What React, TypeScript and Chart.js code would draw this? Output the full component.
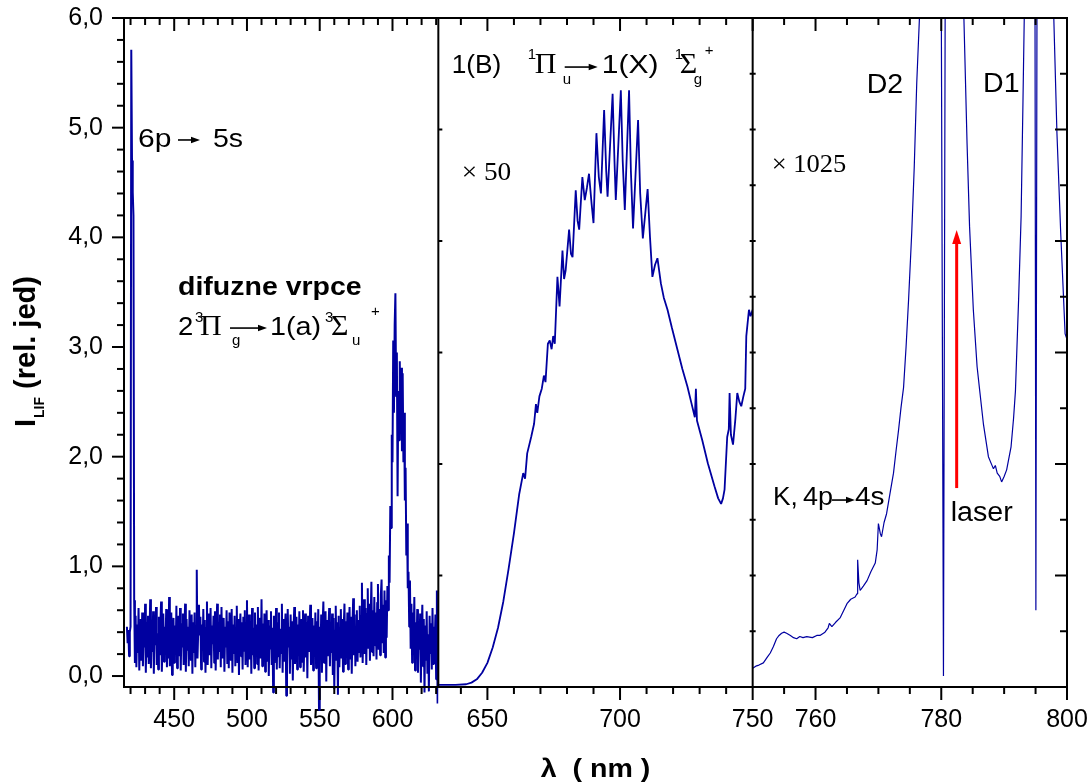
import React, { useEffect, useRef } from 'react';
import { Chart, registerables } from 'chart.js';

Chart.register(...registerables);

const SANS = "'Liberation Sans', Arial, Helvetica, sans-serif";
const SERIF = "'Liberation Serif', 'Times New Roman', serif";
const LINE_COLOR = '#0000a0';

// ---------------- data ----------------
// Panel 1: 6p->5s line + diffuse triplet bands, wavelength grid start/step (nm)
const p1Start = 417.5;
const p1Step = 0.5;
const p1Intensity = [
  0.45, 0.30, 0.42, 0.18, 0.40, 0.45, 5.71, 4.70, 4.41, 4.20, 0.69, 0.12, 0.55, 0.08, 0.47, 0.21, 0.62, 0.05, 0.38, 0.52,
  0.14, 0.58, 0.09, 0.41, 0.26, 0.66, 0.03, 0.49, 0.17, 0.55, 0.11, 0.36, 0.70, 0.07, 0.44, 0.22, 0.59, 0.02, 0.51, 0.28,
  0.63, 0.10, 0.39, 0.06, 0.54, 0.19, 0.47, 0.68, 0.04, 0.33, 0.57, 0.13, 0.45, 0.25, 0.61, 0.08, 0.50, 0.16, 0.72, 0.09,
  0.42, 0.58, 0.01, 0.35, 0.53, 0.12, 0.46, 0.20, 0.64, 0.07, 0.40, 0.55, 0.18, 0.62, 0.05, 0.48, 0.27, 0.57, 0.10, 0.43,
  0.66, 0.04, 0.52, 0.23, 0.45, 0.09, 0.60, 0.31, 0.14, 0.56, 0.02, 0.49, 0.21, 0.58, 0.08, 0.44, 0.97, 0.16, 0.41, 0.65,
  0.37, 0.54, 0.06, 0.47, 0.24, 0.61, 0.13, 0.51, 0.03, 0.44, 0.68, 0.10, 0.38, 0.57, 0.19, 0.62, 0.07, 0.46, 0.29, 0.55,
  0.12, 0.59, 0.05, 0.42, 0.66, 0.15, 0.48, 0.22, 0.56, 0.08, 0.63, 0.17, 0.39, 0.53, 0.04, 0.45, 0.26, 0.60, 0.11, 0.50,
  0.07, 0.58, 0.32, 0.14, 0.61, 0.03, 0.47, 0.20, 0.55, 0.09, 0.43, 0.64, 0.12, 0.52, 0.01, 0.40, 0.57, 0.18, 0.49, 0.06,
  0.54, 0.23, 0.60, 0.10, 0.45, 0.69, 0.08, 0.37, 0.56, 0.15, 0.50, 0.02, 0.62, 0.19, 0.44, 0.07, 0.58, 0.27, 0.47, 0.11,
  0.63, 0.05, 0.41, 0.53, 0.16, 0.70, 0.09, 0.48, 0.22, 0.57, 0.04, 0.39, 0.60, 0.13, 0.51, 0.00, 0.46, 0.25, 0.59, 0.10,
  0.44, -0.15, 0.55, 0.12, 0.35, 0.62, 0.06, 0.49, 0.18, 0.58, 0.07, 0.43, 0.21, 0.66, 0.03, 0.52, 0.14, 0.40, 0.57, -0.18,
  0.09, 0.61, 0.26, 0.45, 0.02, 0.56, 0.15, 0.50, -0.04, 0.42, 0.63, 0.11, 0.38, 0.54, 0.06, 0.47, 0.20, 0.59, 0.08, 0.44,
  0.52, 0.13, 0.60, 0.04, 0.41, 0.57, 0.17, 0.49, -0.02, 0.55, 0.22, 0.43, 0.65, 0.10, 0.37, 0.53, 0.05, 0.46, 0.19, 0.58,
  0.07, 0.50, 0.24, 0.61, -0.31, 0.45, 0.15, 0.56, 0.03, 0.48, 0.68, 0.12, 0.40, 0.59, -0.05, 0.51, 0.18, 0.44, 0.62, 0.09,
  0.47, 0.21, 0.57, 0.01, 0.53, -0.12, 0.42, 0.64, 0.14, 0.49, -0.17, 0.55, 0.08, 0.38, 0.61, 0.16, 0.52, 0.04, 0.45, 0.66,
  0.11, 0.50, 0.26, 0.58, 0.06, 0.43, 0.63, 0.15, 0.54, 0.02, 0.47, 0.71, 0.19, 0.56, 0.09, 0.41, 0.60, 0.13, 0.51, 0.22,
  0.64, 0.17, 0.55, 0.85, 0.12, 0.48, 0.70, 0.20, 0.62, 0.10, 0.57, 0.80, 0.25, 0.66, 0.14, 0.52, 0.86, 0.22, 0.60, 0.18,
  0.72, 0.28, 0.58, 0.15, 0.67, 0.84, 0.24, 0.61, 0.19, 0.74, 0.88, 0.30, 0.65, 0.21, 0.78, 0.17, 0.69, 0.35, 0.82, 0.60,
  1.10, 0.85, 1.55, 1.35, 2.20, 1.95, 3.06, 2.40, 3.20, 3.49, 2.55, 2.95, 1.64, 2.60, 2.15, 2.87, 2.25, 2.81, 2.05, 2.76,
  1.95, 2.40, 1.60, 1.90, 1.10, 1.39, 0.80, 0.95, 0.45, 0.87, 0.25, 0.66, 0.12, 0.58, 0.30, 0.72, 0.05, 0.49, 0.18, 0.61,
  0.03, 0.44, 0.24, 0.57, -0.06, 0.40, 0.65, 0.09, 0.52, -0.15, 0.46, 0.14, 0.59, 0.02, 0.38, -0.14, 0.55, 0.20, 0.48, 0.06,
  0.62, 0.11, 0.45, 0.27, 0.56, -0.03, 0.78, -0.25, 0.40,
];

// Panel 2: 1(B) -> 1(X) band, x 50
const p2Wavelength = [
  631.5, 638, 642, 644, 646, 648, 650, 652, 654, 656,
  658, 660, 662, 663.5, 664.2, 665, 666.5, 667.6, 668.3, 668.8,
  669.6, 670.5, 671.3, 671.9, 672.8, 673.5, 674.2, 674.8, 675.4, 676.4,
  677.2, 678.3, 678.9, 679.5, 680.8, 681.5, 682.1, 683.3, 684.0, 684.6,
  685.8, 686.7, 687.5, 688.3, 689.3, 690.0, 691.1, 692.0, 692.8, 694.0,
  694.8, 695.3, 697.2, 697.9, 698.4, 700.3, 701.0, 701.8, 703.4, 704.1,
  704.9, 706.8, 707.6, 708.6, 710.4, 711.3, 712.2, 713.2, 714.1, 715.4,
  716.5, 717.9, 719.5, 721.7, 723.5, 725.4, 726.8, 728.2, 728.6, 729.0,
  731.0, 733.1, 735.6, 737.0, 738.1, 738.8, 739.4, 740.4, 741.0, 741.3,
  741.8, 742.6, 743.5, 744.2, 745.0, 745.7, 746.5, 747.2, 747.6, 748.6,
  749.2, 750.0,
];
const p2Intensity = [
  -0.08, -0.08, -0.075, -0.06, -0.03, 0.03, 0.12, 0.26, 0.44, 0.68,
  0.98, 1.30, 1.66, 1.85, 1.80, 2.03, 2.18, 2.30, 2.48, 2.40,
  2.55, 2.62, 2.74, 2.68, 3.03, 3.06, 2.98, 3.10, 3.03, 3.64,
  3.37, 3.88, 3.62, 3.70, 4.07, 3.85, 3.82, 4.43, 4.15, 4.07,
  4.55, 4.34, 4.45, 4.58, 4.30, 4.13, 4.95, 4.55, 4.40, 5.16,
  4.60, 4.37, 5.31, 4.70, 4.34, 5.34, 4.70, 4.25, 5.34, 4.60,
  4.08, 5.07, 4.40, 3.99, 4.44, 4.00, 3.64, 3.75, 3.81, 3.58,
  3.45, 3.34, 3.18, 2.97, 2.80, 2.64, 2.50, 2.36, 2.62, 2.33,
  2.15, 1.94, 1.73, 1.62, 1.57, 1.62, 1.70, 2.18, 2.25, 2.58,
  2.20, 2.11, 2.35, 2.58, 2.50, 2.46, 2.55, 2.62, 3.10, 3.34,
  3.28, 3.34,
];

// Panel 3: K / Rb D lines region, x 1025
const p3Wavelength = [
  750.0, 750.5, 751.0, 751.7, 752.3, 752.8, 753.3, 753.8, 754.2, 754.6,
  755.0, 755.4, 756.0, 756.5, 757.0, 757.5, 758.0, 758.6, 759.5, 760.2,
  760.7, 761.5, 762.0, 762.2, 762.6, 763.2, 763.9, 764.5, 765.0, 765.6,
  766.3, 766.6, 766.7, 766.9, 767.1, 767.6, 768.2, 768.8, 769.5, 769.8,
  770.0, 770.3, 770.5, 770.9, 771.3, 771.8, 772.4, 772.8, 773.2, 773.6,
  774.0, 774.4, 774.8, 775.3, 775.7, 776.1, 776.6, 777.2, 778.0, 779.0,
  779.9, 780.35, 780.75, 781.5, 782.5, 783.2, 783.6, 784.1, 784.5, 785.1,
  785.7, 786.1, 786.7, 787.5, 788.0, 788.3, 788.6, 788.9, 789.3, 789.6,
  790.0, 790.4, 791.1, 791.5, 791.8, 792.3, 792.7, 793.0, 793.2, 793.6,
  794.3, 794.85, 795.05, 795.3, 796.0, 797.0, 797.6, 797.9, 798.4, 799.0,
  799.7, 800.0,
];
const p3Intensity = [
  0.07, 0.09, 0.10, 0.12, 0.17, 0.21, 0.27, 0.34, 0.37, 0.39,
  0.40, 0.39, 0.37, 0.35, 0.34, 0.36, 0.35, 0.36, 0.35, 0.37,
  0.37, 0.40, 0.44, 0.48, 0.45, 0.49, 0.53, 0.60, 0.66, 0.70,
  0.72, 0.75, 1.06, 0.85, 0.78, 0.82, 0.87, 0.95, 1.03, 1.15,
  1.39, 1.30, 1.27, 1.40, 1.48, 1.65, 1.85, 2.05, 2.24, 2.45,
  2.63, 3.00, 3.43, 4.04, 4.64, 5.41, 6.10, 7.50, 9.50, 9.00,
  8.00, 0.00, 9.00, 10.0, 8.50, 7.00, 6.00, 4.86, 4.10, 3.34,
  2.82, 2.61, 2.30, 2.00, 1.93, 1.89, 1.92, 1.85, 1.82, 1.77,
  1.82, 1.88, 2.09, 2.35, 2.60, 3.43, 4.19, 5.25, 6.00, 7.50,
  9.00, 8.50, 0.60, 8.50, 9.00, 8.00, 6.80, 6.00, 4.95, 4.04,
  3.12, 3.07,
];

// ---------------- ticks ----------------
const yTicks = [0, 1, 2, 3, 4, 5, 6];
const yMinorTicks = [0.2, 0.4, 0.6, 0.8, 1.2, 1.4, 1.6, 1.8, 2.2, 2.4, 2.6, 2.8, 3.2, 3.4, 3.6, 3.8, 4.2, 4.4, 4.6, 4.8, 5.2, 5.4, 5.6, 5.8];
const y2MajorTicks = [1, 2, 3, 4, 5];
const y2MinorTicks = [0.5, 1.5, 2.5, 3.5, 4.5, 5.5];
const x1Ticks = [450, 500, 550, 600];
const x1MinorTicks = [420, 430, 440, 460, 470, 480, 490, 510, 520, 530, 540, 560, 570, 580, 590, 610, 620, 630];
const x2Ticks = [650, 700];
const x2MinorTicks = [640, 660, 670, 680, 690, 710, 720, 730, 740];
const x3Ticks = [750, 760, 780, 800];
const x3MinorTicks = [755, 765, 770, 775, 785, 790, 795];

// ---------------- drawing helpers ----------------
function txt(ctx: any, s: string, x: number, y: number, font: string, sx = 1.1, align = 'left') {
  ctx.save();
  ctx.font = font;
  ctx.textAlign = align;
  ctx.textBaseline = 'alphabetic';
  ctx.translate(x, y);
  ctx.scale(sx, 1);
  ctx.fillText(s, 0, 0);
  ctx.restore();
}

function hArrow(ctx: any, x0: number, x1: number, y: number) {
  const head = 9;
  const hw = 3.2;
  ctx.save();
  ctx.lineWidth = 1.6;
  ctx.beginPath();
  ctx.moveTo(x0, y);
  ctx.lineTo(x1 - head + 1, y);
  ctx.stroke();
  ctx.beginPath();
  ctx.moveTo(x1, y);
  ctx.lineTo(x1 - head, y - hw);
  ctx.lineTo(x1 - head, y + hw);
  ctx.closePath();
  ctx.fill();
  ctx.restore();
}

const f = (size: number, fam = SANS, bold = false) => `${bold ? 'bold ' : ''}${size}px ${fam}`;

const framePlugin = {
  id: 'frame',
  afterDraw(chart: any) {
    const { ctx, chartArea: a, scales: s } = chart;
    const { x1, x2, x3, y, y2 } = s;
    ctx.save();
    ctx.strokeStyle = '#000';
    ctx.fillStyle = '#000';
    ctx.lineWidth = 2;
    const seg = (ax: number, ay: number, bx: number, by: number) => {
      ctx.beginPath();
      ctx.moveTo(ax, ay);
      ctx.lineTo(bx, by);
      ctx.stroke();
    };
    // frame and panel dividers
    ctx.strokeRect(a.left, a.top, a.right - a.left, a.bottom - a.top);
    const d1 = x2.left;
    const d2 = x3.left;
    seg(d1, a.top, d1, a.bottom);
    seg(d2, a.top, d2, a.bottom);

    // x ticks: bottom outward, top inward
    const xt = (sc: any, vals: number[], len: number) =>
      vals.forEach((v) => {
        const p = sc.getPixelForValue(v);
        seg(p, a.bottom, p, a.bottom + len);
        seg(p, a.top, p, a.top + len);
      });
    xt(x1, x1Ticks, 13);
    xt(x1, x1MinorTicks, 7);
    xt(x2, x2Ticks, 13);
    xt(x2, x2MinorTicks, 7);
    xt(x3, x3Ticks, 13);
    xt(x3, x3MinorTicks, 7);

    // left y ticks (outward)
    yTicks.forEach((v) => {
      const p = y.getPixelForValue(v);
      seg(a.left - 12, p, a.left, p);
    });
    yMinorTicks.forEach((v) => {
      const p = y.getPixelForValue(v);
      seg(a.left - 7, p, a.left, p);
    });
    // right / divider ticks (inward)
    y2MajorTicks.forEach((v) => {
      const p = y2.getPixelForValue(v);
      seg(a.right - 12, p, a.right, p);
      seg(d1, p, d1 + 4, p);
      seg(d2 - 3, p, d2 + 3, p);
    });
    y2MinorTicks.forEach((v) => {
      const p = y2.getPixelForValue(v);
      seg(a.right - 7, p, a.right, p);
      seg(d2 - 3, p, d2 + 3, p);
    });

    // ---------- annotations ----------
    const P1 = (wl: number, v: number) => [x1.getPixelForValue(wl), y.getPixelForValue(v)];
    const P2 = (wl: number, v: number) => [x2.getPixelForValue(wl), y.getPixelForValue(v)];
    const P3 = (wl: number, v: number) => [x3.getPixelForValue(wl), y.getPixelForValue(v)];

    // 6p -> 5s
    {
      const [ax, ay] = P1(425.12, 4.824);
      txt(ctx, '6p', ax, ay, f(25), 1.2);
      hArrow(ctx, ax + 40, ax + 62, ay - 7);
      txt(ctx, '5s', ax + 75, ay, f(25), 1.14);
    }
    // difuzne vrpce
    {
      const [ax, ay] = P1(452.61, 3.474);
      txt(ctx, 'difuzne vrpce', ax, ay, f(25, SANS, true), 1.14);
    }
    // 2 3Pi_g -> 1(a) 3Sigma_u+
    {
      const [ax, ay] = P1(452.61, 3.109);
      txt(ctx, '2', ax, ay, f(25), 1.1);
      txt(ctx, '3', ax + 17, ay - 13, f(15), 1);
      txt(ctx, '\u03A0', ax + 22, ay, f(30, SERIF), 1);
      txt(ctx, 'g', ax + 54, ay + 10, f(15), 1);
      hArrow(ctx, ax + 52, ax + 89, ay - 7);
      txt(ctx, '1(a)', ax + 92, ay, f(25), 1.15);
      txt(ctx, '3', ax + 147, ay - 13, f(15), 1);
      txt(ctx, '\u03A3', ax + 153, ay, f(30, SERIF), 1);
      txt(ctx, 'u', ax + 174, ay + 10, f(15), 1);
      txt(ctx, '+', ax + 193, ay - 19, f(15), 1);
    }
    // 1(B) 1Pi_u -> 1(X) 1Sigma_g+
    {
      const [ax, ay] = P2(636.54, 5.498);
      txt(ctx, '1(B)', ax, ay, f(25), 1.05);
      txt(ctx, '1', ax + 76, ay - 14, f(15), 1);
      txt(ctx, '\u03A0', ax + 83, ay, f(30, SERIF), 1);
      txt(ctx, 'u', ax + 111, ay + 11, f(15), 1);
      hArrow(ctx, ax + 113, ax + 146, ay - 6);
      txt(ctx, '1(X)', ax + 150, ay, f(25), 1.2);
      txt(ctx, '1', ax + 223, ay - 14, f(15), 1);
      txt(ctx, '\u03A3', ax + 228, ay, f(30, SERIF), 1);
      txt(ctx, 'g', ax + 242, ay + 11, f(15), 1);
      txt(ctx, '+', ax + 253, ay - 18, f(15), 1);
    }
    // x 50
    {
      const [ax, ay] = P2(640.31, 4.523);
      txt(ctx, '\u00D7 50', ax, ay, f(26, SERIF), 1.05);
    }
    // x 1025
    {
      const [ax, ay] = P3(753.03, 4.596);
      txt(ctx, '\u00D7 1025', ax, ay, f(26, SERIF), 1.02);
    }
    // D2, D1
    {
      const [ax, ay] = P3(768.14, 5.316);
      txt(ctx, 'D2', ax, ay, f(28), 1.02);
      const [bx, by] = P3(786.64, 5.328);
      txt(ctx, 'D1', bx, by, f(28), 1.02);
    }
    // K, 4p -> 4s
    {
      const [ax, ay] = P3(753.23, 1.559);
      txt(ctx, 'K,', ax, ay, f(25), 1.05);
      txt(ctx, '4p', ax + 30, ay, f(25), 1.08);
      hArrow(ctx, ax + 59, ax + 82, ay - 5);
      txt(ctx, '4s', ax + 82, ay, f(25), 1.12);
    }
    // laser + red arrow
    {
      const [ax, ay] = P3(781.5, 1.414);
      txt(ctx, 'laser', ax, ay, f(27), 1.06);
      const [rx, r0] = P3(782.45, 1.714);
      const [, r1] = P3(782.45, 4.067);
      ctx.save();
      ctx.strokeStyle = '#ff0000';
      ctx.fillStyle = '#ff0000';
      ctx.lineWidth = 3;
      ctx.beginPath();
      ctx.moveTo(rx, r0);
      ctx.lineTo(rx, r1 + 12);
      ctx.stroke();
      ctx.beginPath();
      ctx.moveTo(rx, r1);
      ctx.lineTo(rx - 4.5, r1 + 14);
      ctx.lineTo(rx + 4.5, r1 + 14);
      ctx.closePath();
      ctx.fill();
      ctx.restore();
    }

    // axis titles
    {
      const cx = (a.left + a.right) / 2;
      txt(ctx, '\u03BB  ( nm )', cx, 777, f(26, SANS, true), 1.1, 'center');
    }
    {
      ctx.save();
      ctx.translate(35, 427);
      ctx.rotate(-Math.PI / 2);
      ctx.textBaseline = 'alphabetic';
      ctx.textAlign = 'left';
      ctx.font = f(29, SANS, true);
      ctx.fillText('I', 0, 0);
      let x = ctx.measureText('I').width + 1;
      ctx.font = f(14, SANS, true);
      ctx.fillText('LIF', x, 9);
      x += ctx.measureText('LIF').width;
      ctx.font = f(29, SANS, true);
      ctx.fillText(' (rel. jed)', x, 0);
      ctx.restore();
    }

    ctx.restore();
  },
};

const tickFont = { size: 25, family: SANS };

function zeroPad(scale: any) {
  scale.paddingLeft = 0;
  scale.paddingRight = 0;
  scale.paddingTop = 0;
  scale.paddingBottom = 0;
}

export default function App() {
  const ref = useRef<HTMLCanvasElement>(null);

  useEffect(() => {
    if (!ref.current) return;
    Chart.defaults.font.family = SANS;

    const p1Points = p1Intensity.map((v, i) => ({ x: Math.round((p1Start + i * p1Step) * 100) / 100, y: v }));
    const p2Points = p2Wavelength.map((w, i) => ({ x: w, y: p2Intensity[i] }));
    const p3Points = p3Wavelength.map((w, i) => ({ x: w, y: p3Intensity[i] }));

    const common = {
      borderColor: LINE_COLOR,
      pointRadius: 0,
      pointHoverRadius: 0,
      fill: false,
      tension: 0,
      yAxisID: 'y',
      borderJoinStyle: 'bevel',
    };

    const xScale = (min: number, max: number, ticksArr: number[]) => ({
      type: 'linear',
      position: 'bottom',
      stack: 'x',
      stackWeight: 1,
      min,
      max,
      grid: { display: false, drawTicks: false },
      border: { display: false },
      ticks: {
        font: tickFont,
        color: '#000',
        padding: 18,
        autoSkip: false,
        maxRotation: 0,
        minRotation: 0,
        callback: (v: any) => String(v),
      },
      afterBuildTicks: (sc: any) => {
        sc.ticks = ticksArr.map((v) => ({ value: v }));
      },
      afterFit: (sc: any) => {
        sc.height = 97;
        zeroPad(sc);
      },
    });

    const chart = new Chart(ref.current, {
      type: 'line',
      data: {
        datasets: [
          { ...common, data: p1Points, xAxisID: 'x1', borderWidth: 2, clip: { left: 0, top: 0, right: 0, bottom: 40 } },
          { ...common, data: p2Points, xAxisID: 'x2', borderWidth: 1.8 },
          { ...common, data: p3Points, xAxisID: 'x3', borderWidth: 1.2 },
        ],
      } as any,
      options: {
        responsive: true,
        maintainAspectRatio: false,
        animation: false,
        devicePixelRatio: 1,
        events: [],
        layout: { autoPadding: false, padding: { left: 0, top: 18, right: 23, bottom: 0 } },
        plugins: { legend: { display: false }, tooltip: { enabled: false }, title: { display: false } },
        scales: {
          x1: xScale(415.5, 631.5, x1Ticks),
          x2: xScale(631.5, 750, x2Ticks),
          x3: xScale(750, 800, x3Ticks),
          y: {
            type: 'linear',
            position: 'left',
            min: -0.1,
            max: 6,
            grid: { display: false, drawTicks: false },
            border: { display: false },
            ticks: {
              font: tickFont,
              color: '#000',
              padding: 21,
              callback: (v: any) => Number(v).toFixed(1).replace('.', ','),
            },
            afterBuildTicks: (sc: any) => {
              sc.ticks = yTicks.map((v) => ({ value: v }));
            },
            afterFit: (sc: any) => {
              sc.width = 124;
              zeroPad(sc);
            },
          },
          y2: {
            type: 'linear',
            position: 'right',
            min: 0,
            max: 6,
            display: false,
          },
        } as any,
      } as any,
      plugins: [framePlugin as any],
    });

    return () => chart.destroy();
  }, []);

  return (
    <div style={{ position: 'absolute', left: 0, top: 0, width: 1090, height: 784, background: '#fff' }}>
      <canvas ref={ref} />
    </div>
  );
}
